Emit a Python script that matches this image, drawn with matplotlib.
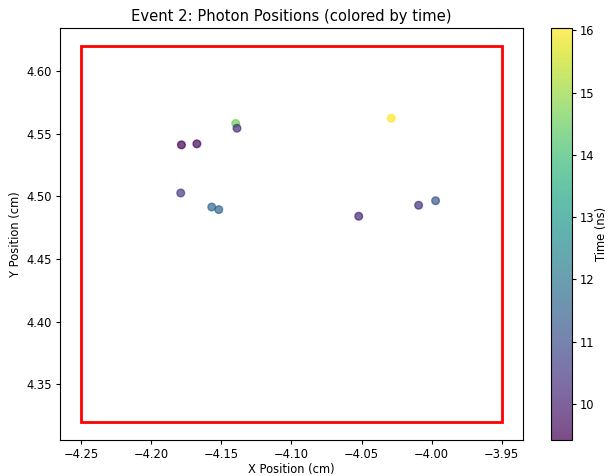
import matplotlib
matplotlib.use("Agg")
import matplotlib.pyplot as plt
import matplotlib.patches as patches
import numpy as np

plt.rcParams["font.size"] = 8.3
plt.rcParams["axes.titlesize"] = 10.6
plt.rcParams["xtick.major.size"] = 3
plt.rcParams["ytick.major.size"] = 3
plt.rcParams["xtick.major.pad"] = 2.6
plt.rcParams["ytick.major.pad"] = 2.6
plt.rcParams["axes.labelpad"] = 3.2

# photon hits for event 2
x_pos = [-4.1784, -4.1674, -4.1397, -4.1388, -4.1789, -4.1568, -4.1518,
         -4.0288, -4.0520, -4.0093, -3.9972]
y_pos = [4.5413, 4.5421, 4.5584, 4.5546, 4.5028, 4.4916, 4.4895,
         4.5626, 4.4842, 4.4930, 4.4966]
times = [9.42, 9.6, 14.6, 10.3, 10.6, 11.7, 11.6,
         16.04, 10.1, 10.4, 11.2]

# detector outline (x0, y0, width, height)
det_x0, det_y0 = -4.25, 4.32
det_w, det_h = 0.30, 0.30

fig = plt.figure(figsize=(6.09, 4.76), dpi=100)
ax = fig.add_axes([0.0985, 0.075, 0.760, 0.8668])
cax = fig.add_axes([0.9053, 0.075, 0.0345, 0.8668])

sc = ax.scatter(x_pos, y_pos, c=times, cmap="viridis", alpha=0.7, s=30)
rect = patches.Rectangle((det_x0, det_y0), det_w, det_h, fill=False,
                         edgecolor="red", linewidth=2)
ax.add_patch(rect)
ax.autoscale_view()

ax.set_title("Event 2: Photon Positions (colored by time)", pad=5)
ax.set_xlabel("X Position (cm)", labelpad=1.5)
ax.set_ylabel("Y Position (cm)")

cb = fig.colorbar(sc, cax=cax)
cb.set_label("Time (ns)", labelpad=0.5)

fig.savefig("out.png", dpi=100)
